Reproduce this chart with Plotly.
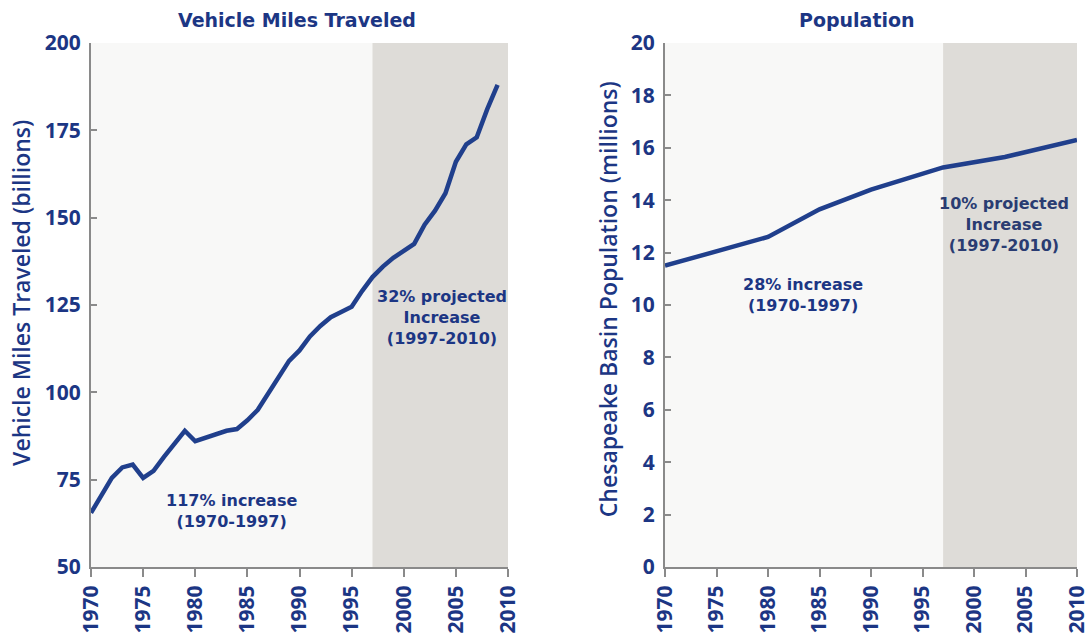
import plotly.graph_objects as go

# Vehicle miles traveled (billions)
vmt_years = list(range(1970, 2010))
vmt_values = [65.5, 70.5, 75.5, 78.5, 79.3, 75.5, 77.5, 81.5, 85.5, 89.0,
              86.0, 87.0, 88.0, 89.0, 89.5, 92.0, 95.0, 99.5, 104.5, 109.0,
              112.0, 116.0, 119.0, 121.5, 123.0, 124.5, 129.0, 133.0, 136.0, 138.5,
              140.5, 142.5, 148.0, 152.0, 157.0, 166.0, 171.0, 173.0, 181.0, 188.0]

# Chesapeake basin population (millions)
pop_years = [1970, 1980, 1985, 1990, 1997, 2003, 2010]
pop_values = [11.5, 12.6, 13.65, 14.4, 15.25, 15.65, 16.3]

x_ticks = [1970, 1975, 1980, 1985, 1990, 1995, 2000, 2005, 2010]
vmt_ticks = [50, 75, 100, 125, 150, 175, 200]
pop_ticks = [0, 2, 4, 6, 8, 10, 12, 14, 16, 18, 20]

NAVY = "#1c3684"
LINE = "#203f8c"
AXIS = "#8a8a8a"
SHADE = "#dedcd8"
YTICKFONT = dict(family="Open Sans", size=21, color=NAVY, weight=700)
XTICKFONT = dict(family="Open Sans", size=21, color=NAVY, weight=700)
NOTEFONT = dict(family="DejaVu Sans", size=16, color=NAVY, weight=700)
TITLEFONT = dict(family="DejaVu Sans", size=19, color=NAVY, weight=700)
AXTITLEFONT = dict(family="Open Sans", size=23, color=NAVY, weight=600)

fig = go.Figure()

fig.add_trace(go.Scatter(x=vmt_years, y=vmt_values, mode="lines",
                         line=dict(color=LINE, width=4.5),
                         xaxis="x", yaxis="y", showlegend=False))
fig.add_trace(go.Scatter(x=pop_years, y=pop_values, mode="lines",
                         line=dict(color=LINE, width=4.5),
                         xaxis="x2", yaxis="y2", showlegend=False))

# projected period shading
fig.add_shape(type="rect", xref="x", yref="y", x0=1997, x1=2010, y0=50, y1=200,
              fillcolor=SHADE, line_width=0, layer="below")
fig.add_shape(type="rect", xref="x2", yref="y2", x0=1997, x1=2010, y0=0, y1=20,
              fillcolor=SHADE, line_width=0, layer="below")
# plot-area backgrounds
fig.add_shape(type="rect", xref="x domain", yref="y domain", x0=0, x1=1, y0=0, y1=1,
              fillcolor="#f8f8f7", line_width=0, layer="below")
fig.add_shape(type="rect", xref="x2 domain", yref="y2 domain", x0=0, x1=1, y0=0, y1=1,
              fillcolor="#f8f8f7", line_width=0, layer="below")

xax = dict(range=[1970, 2010], tickvals=x_ticks, tickangle=-90, tickfont=XTICKFONT,
           showgrid=False, zeroline=False, showline=True, linecolor=AXIS, linewidth=2,
           ticks="outside", ticklen=8, tickwidth=2, tickcolor=AXIS,
           ticklabelstandoff=0, ticklabeloverflow="allow", automargin=False)
yax = dict(showgrid=False, zeroline=False, showline=True, linecolor=AXIS, linewidth=2,
           ticks="inside", ticklen=6, tickwidth=2, tickcolor=AXIS, tickfont=YTICKFONT,
           ticklabelstandoff=4, automargin=False)

fig.update_layout(
    width=1090, height=635,
    margin=dict(l=0, r=0, t=43, b=68),
    paper_bgcolor="white", plot_bgcolor="rgba(0,0,0,0)",
    xaxis=dict(xax, domain=[91 / 1090, 508 / 1090], anchor="y"),
    yaxis=dict(yax, range=[50, 200], tickvals=vmt_ticks, anchor="x"),
    xaxis2=dict(xax, domain=[665 / 1090, 1077 / 1090], anchor="y2"),
    yaxis2=dict(yax, range=[0, 20], tickvals=pop_ticks, anchor="x2"),
)

# titles
fig.add_annotation(text="Vehicle Miles Traveled", xref="paper", yref="paper",
                   x=297 / 1090, y=1 + 23 / 524, xanchor="center", yanchor="middle",
                   showarrow=False, font=TITLEFONT)
fig.add_annotation(text="Population", xref="paper", yref="paper",
                   x=857 / 1090, y=1 + 23 / 524, xanchor="center", yanchor="middle",
                   showarrow=False, font=TITLEFONT)

# axis titles
fig.add_annotation(text="Vehicle Miles Traveled (billions)", xref="paper", yref="paper",
                   x=21 / 1090, y=0.523, xanchor="center", yanchor="middle",
                   textangle=-90, showarrow=False, font=AXTITLEFONT)
fig.add_annotation(text="Chesapeake Basin Population (millions)", xref="paper", yref="paper",
                   x=608 / 1090, y=0.511, xanchor="center", yanchor="middle",
                   textangle=-90, showarrow=False, font=AXTITLEFONT)

# period notes
fig.add_annotation(text="117% increase<br>(1970-1997)", xref="x", yref="y",
                   x=1983.5, y=66, showarrow=False, font=NOTEFONT)
fig.add_annotation(text="32% projected<br>Increase<br>(1997-2010)", xref="x", yref="y",
                   x=2003.7, y=121.3, showarrow=False, font=NOTEFONT)
fig.add_annotation(text="28% increase<br>(1970-1997)", xref="x2", yref="y2",
                   x=1983.4, y=10.37, showarrow=False, font=NOTEFONT)
fig.add_annotation(text="10% projected<br>Increase<br>(1997-2010)", xref="x2", yref="y2",
                   x=2002.9, y=13.07, showarrow=False,
                   font=dict(NOTEFONT, color="#2a3c72"))

fig.write_html("out.html", config={"displayModeBar": False},
               post_script="document.body.style.margin='0';")
